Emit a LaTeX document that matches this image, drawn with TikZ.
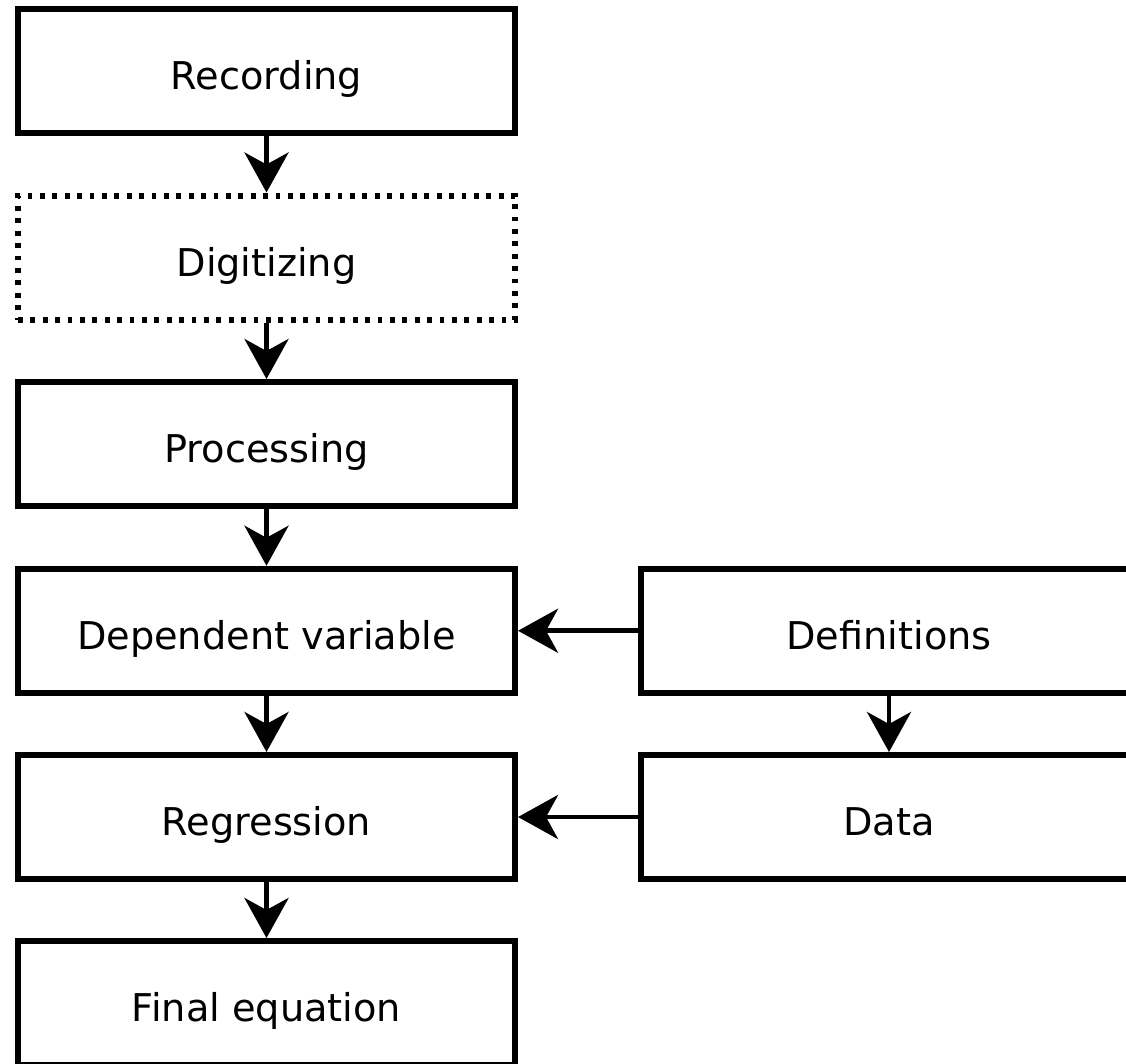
\documentclass[tikz,border=0pt]{standalone}
\usepackage{fontspec}
\setmainfont{DejaVu Sans}
\usetikzlibrary{arrows.meta}
\begin{document}
\begin{tikzpicture}[x=0.75pt,y=-0.75pt,
  box/.style={draw=black,line width=4.5pt,rectangle,minimum width=372.75pt,minimum height=93pt,inner sep=0pt,
    font=\fontsize{28.7}{34}\selectfont,text height=28.4pt,text depth=0pt},
  dotbox/.style={box,dash pattern=on 3.6pt off 5.7pt},
  arr/.style={line width=3.6pt,-{Stealth[length=30pt,width=33pt,inset=9pt]}}]
\useasboundingbox (0,0) rectangle (1126,1063);
\clip (0,0) rectangle (1126,1063);
\fill[white] (0,0) rectangle (1126,1063);
\node[box] (rec) at (266.5,71) {Recording};
\node[dotbox] (dig) at (266.5,257.5) {Digitizing};
\node[box] (pro) at (266.5,444) {Processing};
\node[box] (dep) at (266.5,630.75) {Dependent variable};
\node[box] (reg) at (266.5,817) {Regression};
\node[box] (fin) at (266.5,1003) {Final equation};
\node[box] (def) at (889,630.75) {Definitions};
\node[box] (dat) at (889,817) {Data};
\draw[arr] (rec) -- (dig);
\draw[arr] (dig) -- (pro);
\draw[arr] (pro) -- (dep);
\draw[arr] (dep) -- (reg);
\draw[arr] (reg) -- (fin);
\draw[arr] (def) -- (dep);
\draw[arr] (dat) -- (reg);
\draw[arr] (def) -- (dat);
\end{tikzpicture}
\end{document}
